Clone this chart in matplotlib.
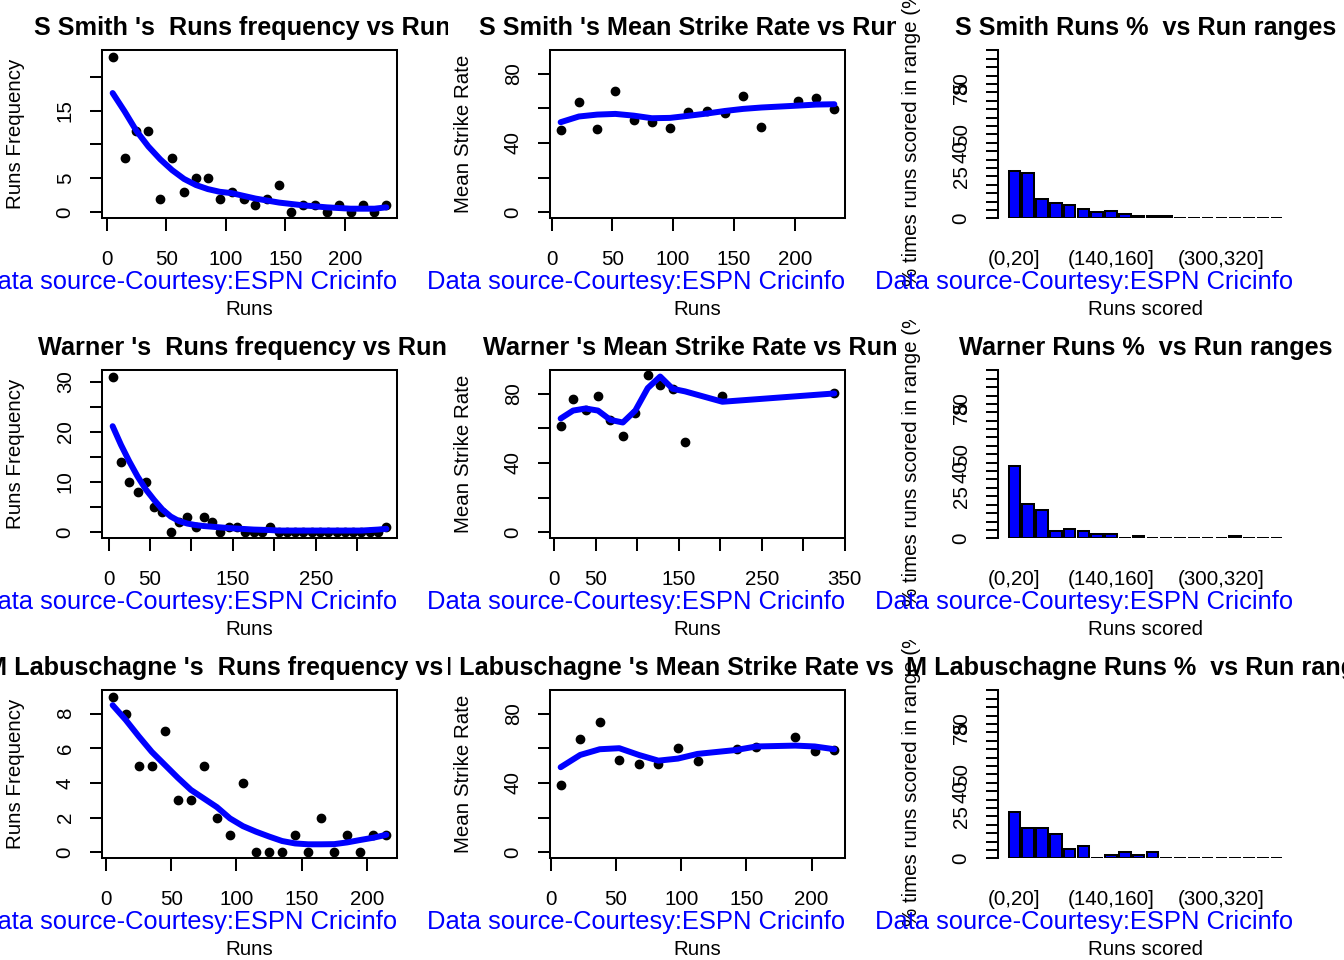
"""Batsman summary panels: runs frequency, mean strike rate and runs % per range."""

import numpy as np
import matplotlib
matplotlib.use('Agg')
import matplotlib.pyplot as plt
from matplotlib.transforms import Bbox, TransformedBbox, blended_transform_factory

plt.rcParams['font.family'] = ['Liberation Sans', 'DejaVu Sans']

players = ['S Smith', 'Warner', 'M Labuschagne']

# Runs frequency (10-run bins, mid points) and fitted curve
smith_freq_x = [5, 15, 25, 35, 45, 55, 65, 75, 85, 95, 105, 115, 125, 135, 145, 155,
                165, 175, 185, 195, 205, 215, 225, 235]
smith_freq_y = [23, 8, 12, 12, 2, 8, 3, 5, 5, 2, 3, 2, 1, 2, 4, 0, 1, 1, 0, 1, 0, 1, 0, 1]
smith_freq_fit = [17.6, 14.9, 12.0, 9.7, 7.8, 6.2, 4.9, 4.0, 3.4, 3.0, 2.8, 2.4, 2.0, 1.7,
                  1.4, 1.2, 1.0, 0.85, 0.7, 0.6, 0.5, 0.5, 0.5, 0.7]

warner_freq_x = [5, 15, 25, 35, 45, 55, 65, 75, 85, 95, 105, 115, 125, 135, 145, 155, 165,
                 175, 185, 195, 205, 215, 225, 235, 245, 255, 265, 275, 285, 295, 305, 315,
                 325, 335]
warner_freq_y = [31, 14, 10, 8, 10, 5, 4, 0, 2, 3, 1, 3, 2, 0, 1, 1, 0, 0, 0, 1, 0, 0, 0, 0,
                 0, 0, 0, 0, 0, 0, 0, 0, 0, 1]
warner_freq_fit = [21.1, 17.4, 14.1, 11.1, 8.5, 6.4, 4.5, 3.1, 2.2, 1.7, 1.4, 1.2, 1.07, 0.93,
                   0.8, 0.7, 0.6, 0.5, 0.45, 0.4, 0.3, 0.3, 0.3, 0.3, 0.3, 0.3, 0.3, 0.3,
                   0.3, 0.3, 0.3, 0.4, 0.5, 0.65]

labu_freq_x = [5, 15, 25, 35, 45, 55, 65, 75, 85, 95, 105, 115, 125, 135, 145, 155, 165,
               175, 185, 195, 205, 215]
labu_freq_y = [9, 8, 5, 5, 7, 3, 3, 5, 2, 1, 4, 0, 0, 0, 1, 0, 2, 0, 1, 0, 1, 1]
labu_freq_fit = [8.5, 7.65, 6.7, 5.8, 5.05, 4.3, 3.6, 3.1, 2.6, 1.95, 1.5, 1.18, 0.9, 0.64,
                 0.5, 0.45, 0.45, 0.46, 0.56, 0.7, 0.83, 1.0]

# Mean strike rate per 15-run bin and fitted curve
smith_sr_x = [7.5, 22.5, 37.5, 52.5, 67.5, 82.5, 97.5, 112.5, 127.5, 142.5, 157.5, 172.5,
              202.5, 217.5, 232.5]
smith_sr_y = [47.3, 63.4, 47.9, 70.0, 53.5, 52.4, 48.7, 57.8, 58.5, 57.6, 67.0, 49.1,
              64.5, 66.1, 59.7]
smith_sr_fit = [52.0, 55.3, 56.4, 56.8, 55.8, 54.3, 54.5, 55.7, 57.0, 58.5, 59.7, 60.5,
                61.6, 62.2, 62.4]

warner_sr_x = [7.5, 22.5, 37.5, 52.5, 67.5, 82.5, 97.5, 112.5, 127.5, 142.5, 157.5, 202.5,
               337.5]
warner_sr_y = [61.4, 77.1, 70.5, 79.0, 64.9, 55.5, 68.8, 90.6, 85.2, 83.0, 52.0, 78.6, 80.2]
warner_sr_fit = [65.7, 70.3, 71.5, 70.3, 64.9, 63.4, 70.3, 83.3, 90.0, 82.9, 81.4, 75.4, 80.2]

labu_sr_x = [7.5, 22.5, 37.5, 52.5, 67.5, 82.5, 97.5, 112.5, 142.5, 157.5, 187.5, 202.5,
             217.5]
labu_sr_y = [38.6, 65.7, 75.4, 53.3, 51.0, 51.2, 60.3, 52.9, 59.5, 60.7, 66.3, 58.2, 59.1]
labu_sr_fit = [49.1, 56.2, 59.5, 60.1, 56.2, 52.9, 54.1, 56.8, 59.1, 61.1, 61.6, 61.1, 59.5]

# Runs % in 20-run ranges
run_ranges = ['(%d,%d]' % (lo, lo + 20) for lo in range(0, 400, 20)]
smith_pct = [28.0, 27.2, 11.5, 9.3, 8.1, 5.8, 3.6, 4.6, 2.4, 1.4, 1.4, 1.4, 0, 0, 0, 0, 0, 0, 0, 0]
warner_pct = [42.9, 20.6, 16.9, 4.6, 5.8, 4.6, 2.4, 2.4, 0, 1.4, 0, 0, 0, 0, 0, 0, 1.4, 0, 0, 0]
labu_pct = [27.4, 18.3, 18.3, 14.7, 5.4, 7.3, 0, 2.0, 3.8, 2.0, 3.8, 0, 0, 0, 0, 0, 0, 0, 0, 0]

freq_data = [(smith_freq_x, smith_freq_y, smith_freq_fit),
             (warner_freq_x, warner_freq_y, warner_freq_fit),
             (labu_freq_x, labu_freq_y, labu_freq_fit)]
sr_data = [(smith_sr_x, smith_sr_y, smith_sr_fit),
           (warner_sr_x, warner_sr_y, warner_sr_fit),
           (labu_sr_x, labu_sr_y, labu_sr_fit)]
pct_data = [smith_pct, warner_pct, labu_pct]

# axis ticks (R style: some labels dropped)
freq_xticks = [[0, 50, 100, 150, 200], [0, 50, 100, 150, 200, 250, 300], [0, 50, 100, 150, 200]]
freq_xlabels = [['0', '50', '100', '150', '200'], ['0', '50', '', '150', '', '250', ''],
                ['0', '50', '100', '150', '200']]
freq_yticks = [[0, 5, 10, 15, 20], [0, 5, 10, 15, 20, 25, 30], [0, 2, 4, 6, 8]]
freq_ylabels = [['0', '5', '', '15', ''], ['0', '', '10', '', '20', '', '30'],
                ['0', '2', '4', '6', '8']]
sr_xticks = [[0, 50, 100, 150, 200], [0, 50, 100, 150, 200, 250, 300, 350], [0, 50, 100, 150, 200]]
sr_xlabels = [['0', '50', '100', '150', '200'], ['0', '50', '', '150', '', '250', '', '350'],
              ['0', '50', '100', '150', '200']]
sr_yticks = [0, 20, 40, 60, 80]
sr_ylabels = ['0', '', '40', '', '80']
pct_yticks = list(range(0, 101, 5))
pct_ylabels = {0: '0', 25: '25', 40: '40', 50: '50', 75: '75', 80: '80'}
pct_xshow = [0, 7, 15]

W, H = 1344, 960
fs = 14.8
fs_title = 18.2
fs_src = 18.4
lw = 1.45

fig = plt.figure(figsize=(W / 100, H / 100), dpi=100)


def fx(x):
    return x / W


def fy(y):
    return 1 - y / H


def region_clip(txt, c, r):
    bb = Bbox([[fx(c * 448), fy((r + 1) * 320)], [fx((c + 1) * 448), fy(r * 320)]])
    txt.set_clip_box(TransformedBbox(bb, fig.transFigure))
    txt.set_clip_on(True)


def setup_panel(r, c, frame=True):
    ox, oy = c * 448, r * 320
    ax = fig.add_axes([fx(ox + 101.7), fy(oy + 218.3), 295.6 / W, 168 / H])
    for s in ax.spines.values():
        s.set_linewidth(lw)
        s.set_visible(frame)
    ax.tick_params(direction='out', length=9, width=lw, labelbottom=False, labelleft=False)
    return ax, ox, oy


def decorate(ax, r, c, title, xlabel, ylabel, xt, xl, yt, yl):
    ox, oy = c * 448, r * 320
    cx = ox + 249.5
    t = fig.text(fx(cx), fy(oy + 35), title, ha='center', va='baseline',
                 fontsize=fs_title, fontweight='bold')
    region_clip(t, c, r)
    tx = blended_transform_factory(ax.transData, fig.transFigure)
    for v, lab in zip(xt, xl):
        if lab:
            ax.text(v, fy(oy + 265), lab, transform=tx, ha='center', va='baseline',
                    fontsize=fs, clip_on=False)
    ty = blended_transform_factory(fig.transFigure, ax.transData)
    for v, lab in zip(yt, yl):
        if lab:
            ax.text(fx(ox + 70.7), v, lab, transform=ty, rotation=90, rotation_mode='anchor',
                    ha='center', va='baseline', fontsize=fs, clip_on=False)
    yl_txt = fig.text(fx(ox + 20.7), fy(oy + 134.3), ylabel, rotation=90,
                      rotation_mode='anchor', ha='center', va='baseline', fontsize=fs)
    region_clip(yl_txt, c, r)
    fig.text(fx(ox + 397.3), fy(oy + 289), 'Data source-Courtesy:ESPN Cricinfo',
             ha='right', va='baseline', fontsize=fs_src, color='#0000FF')
    fig.text(fx(cx), fy(oy + 315), xlabel, ha='center', va='baseline', fontsize=fs)


for r, name in enumerate(players):
    # Runs frequency
    x, y, fit = freq_data[r]
    ax, ox, oy = setup_panel(r, 0)
    ax.plot(x, y, 'o', color='black', ms=6)
    ax.plot(x, fit, color='#0000FF', lw=4.3, solid_capstyle='round')
    ax.margins(0.04)
    ax.set_xticks(freq_xticks[r])
    ax.set_yticks(freq_yticks[r])
    decorate(ax, r, 0, name + " 's  Runs frequency vs Runs", 'Runs', 'Runs Frequency',
             freq_xticks[r], freq_xlabels[r], freq_yticks[r], freq_ylabels[r])

    # Mean strike rate
    x, y, fit = sr_data[r]
    ax, ox, oy = setup_panel(r, 1)
    ax.plot(x, y, 'o', color='black', ms=6)
    ax.plot(x, fit, color='#0000FF', lw=4.3, solid_capstyle='round')
    ax.margins(x=0.04)
    ax.set_ylim(-3.6, 93.6)
    ax.set_xticks(sr_xticks[r])
    ax.set_yticks(sr_yticks)
    decorate(ax, r, 1, name + " 's Mean Strike Rate vs Runs", 'Runs', 'Mean Strike Rate',
             sr_xticks[r], sr_xlabels[r], sr_yticks, sr_ylabels)

    # Runs % vs run ranges
    ax, ox, oy = setup_panel(r, 2, frame=False)
    pos = 0.7 + 1.2 * np.arange(len(run_ranges))
    ax.bar(pos, pct_data[r], width=1.0, color='#0000FF', edgecolor='black', linewidth=lw)
    ax.spines['left'].set_visible(True)
    ax.set_xlim(-0.75, 24.95)
    ax.set_ylim(0, 100)
    ax.set_xticks([])
    ax.set_yticks(pct_yticks)
    decorate(ax, r, 2, name + ' Runs %  vs Run ranges', 'Runs scored',
             '% times runs scored in range (%)',
             [pos[i] for i in pct_xshow], [run_ranges[i] for i in pct_xshow],
             pct_yticks, [pct_ylabels.get(v, '') for v in pct_yticks])

fig.savefig('out.png', dpi=100)
